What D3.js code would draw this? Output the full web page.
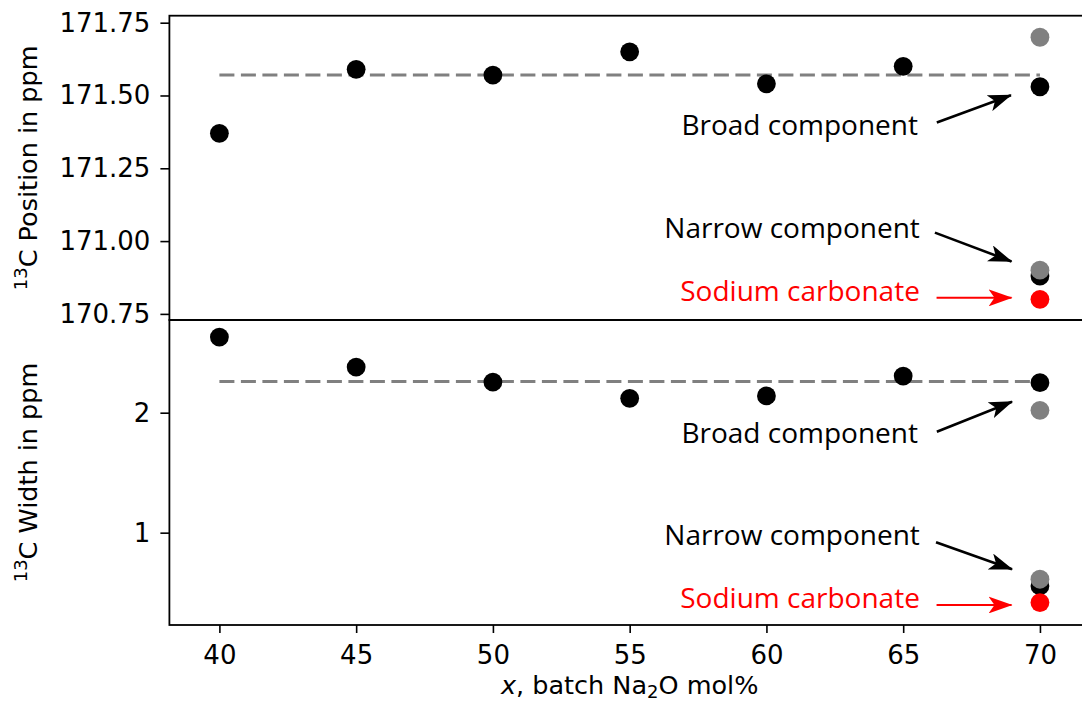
<!DOCTYPE html>
<html>
<head>
<meta charset="utf-8">
<script src="https://cdn.jsdelivr.net/npm/d3@7"></script>
<style>
  html, body { margin: 0; padding: 0; background: #fff; }
  svg { display: block; }
</style>
</head>
<body>
<svg id="chart" width="1082" height="704"></svg>
<script>
// Batch composition (Na2O mol%)
const compositions = [40, 45, 50, 55, 60, 65, 70];

// 13C peak position (ppm) of the main carbonate signal
const positionValues = [171.37, 171.59, 171.57, 171.65, 171.54, 171.60, 171.53];
// 13C peak width (ppm)
const widthValues = [2.63, 2.38, 2.255, 2.12, 2.14, 2.305, 2.25];

// Mean lines
const positionMean = 171.57;
const widthMean = 2.26;

// Two-component fit at x = 70
const fitX = 70;
const positionBroadAlt = 171.70;
const positionNarrow = 170.88;
const positionNarrowAlt = 170.90;
const positionNa2CO3 = 170.80;
const widthBroadAlt = 2.02;
const widthNarrow = 0.556;
const widthNarrowAlt = 0.612;
const widthNa2CO3 = 0.417;

// Tick labels
const xTicks = [40, 45, 50, 55, 60, 65, 70];
const positionTicks = [170.75, 171.00, 171.25, 171.50, 171.75];
const widthTicks = [1, 2];

// Annotations (data coordinates): label end, label baseline, arrow tail, arrow tip
const positionNotes = [
  { text: "Broad component", color: "#000", tx: 65.54, ty: 171.365, ax0: 66.23, ay0: 171.407, ax1: 68.94, ay1: 171.501 },
  { text: "Narrow component", color: "#000", tx: 65.61, ty: 171.011, ax0: 66.16, ay0: 171.029, ax1: 68.96, ay1: 170.930 },
  { text: "Sodium carbonate", color: "#ff0000", tx: 65.61, ty: 170.793, ax0: 66.22, ay0: 170.805, ax1: 68.96, ay1: 170.805 }
];
const widthNotes = [
  { text: "Broad component", color: "#000", tx: 65.54, ty: 1.7475, ax0: 66.23, ay0: 1.8417, ax1: 68.98, ay1: 2.0917 },
  { text: "Narrow component", color: "#000", tx: 65.61, ty: 0.8975, ax0: 66.20, ay0: 0.92, ax1: 68.98, ay1: 0.695 },
  { text: "Sodium carbonate", color: "#ff0000", tx: 65.61, ty: 0.3725, ax0: 66.22, ay0: 0.3975, ax1: 68.96, ay1: 0.3975 }
];

const svg = d3.select("#chart");

const plotLeft = 169.4, plotRight = 1090;
const topPanel = { top: 15.7, bottom: 320 };
const botPanel = { top: 320, bottom: 625 };

const x = d3.scaleLinear().domain([38.172, 71.83]).range([plotLeft, plotRight]);
const yPos = d3.scaleLinear().domain([170.7290, 171.7740]).range([topPanel.bottom, topPanel.top]);
const yWid = d3.scaleLinear().domain([0.2305, 2.7725]).range([botPanel.bottom, botPanel.top]);

const tickFont = 26;
const labelFontFamily = "'DejaVu Sans', sans-serif";
const annFont = "'Open Sans', sans-serif";
const annSize = 28;
const markerR = 9.4;
const grey = "#808080";

// arrow head definitions
const defs = svg.append("defs");
function arrowHead(id, color) {
  defs.append("marker")
    .attr("id", id)
    .attr("viewBox", "0 0 24 17")
    .attr("refX", 23).attr("refY", 8.5)
    .attr("markerWidth", 24).attr("markerHeight", 17)
    .attr("markerUnits", "userSpaceOnUse")
    .attr("orient", "auto")
    .append("path")
    .attr("d", "M0,0 L24,8.5 L0,17 L6,8.5 Z")
    .attr("fill", color);
}
arrowHead("headBlack", "#000");
arrowHead("headRed", "#ff0000");

function styleAxis(ax) {
  ax.attr("font-family", labelFontFamily).attr("font-size", tickFont);
  ax.select(".domain").remove();
  ax.selectAll(".tick line").attr("stroke", "#000").attr("stroke-width", 1.6);
  ax.selectAll(".tick text")
    .attr("font-family", labelFontFamily)
    .attr("font-size", tickFont).attr("fill", "#000");
}

function drawPanel(g, y, panel, values, mean, ticks, tickFmt, extras, notes, showX) {
  // mean dashed line
  g.append("line")
    .attr("x1", x(40)).attr("x2", x(70))
    .attr("y1", y(mean)).attr("y2", y(mean))
    .attr("stroke", grey).attr("stroke-width", 3)
    .attr("stroke-dasharray", "15,6.5");

  // main series
  g.selectAll("circle.main")
    .data(compositions.map((c, i) => ({ c, v: values[i] })))
    .join("circle")
    .attr("class", "main")
    .attr("cx", d => x(d.c)).attr("cy", d => y(d.v))
    .attr("r", markerR).attr("fill", "#000");

  // extra points at x = 70
  extras.forEach(p => {
    g.append("circle")
      .attr("cx", x(fitX)).attr("cy", y(p.v))
      .attr("r", markerR).attr("fill", p.color);
  });

  // annotations
  notes.forEach(n => {
    g.append("text")
      .attr("x", x(n.tx)).attr("y", y(n.ty))
      .attr("text-anchor", "end")
      .attr("font-family", annFont).attr("font-size", annSize)
      .attr("fill", n.color)
      .text(n.text);
    g.append("line")
      .attr("x1", x(n.ax0)).attr("y1", y(n.ay0))
      .attr("x2", x(n.ax1)).attr("y2", y(n.ay1))
      .attr("stroke", n.color)
      .attr("stroke-width", n.color === "#000" ? 2.6 : 2)
      .attr("marker-end", n.color === "#000" ? "url(#headBlack)" : "url(#headRed)");
  });

  // y axis
  const ax = g.append("g")
    .attr("transform", `translate(${plotLeft},0)`)
    .call(d3.axisLeft(y).tickValues(ticks).tickFormat(tickFmt).tickSize(9).tickPadding(10));
  styleAxis(ax);

  if (showX) {
    const axx = g.append("g")
      .attr("transform", `translate(0,${panel.bottom})`)
      .call(d3.axisBottom(x).tickValues(xTicks).tickFormat(d3.format("d")).tickSize(8).tickPadding(13));
    styleAxis(axx);
  }

  // frame
  g.append("rect")
    .attr("x", plotLeft).attr("y", panel.top)
    .attr("width", plotRight - plotLeft).attr("height", panel.bottom - panel.top)
    .attr("fill", "none").attr("stroke", "#000").attr("stroke-width", 1.8);
}

const gTop = svg.append("g");
drawPanel(gTop, yPos, topPanel, positionValues, positionMean, positionTicks, d3.format(".2f"),
  [
    { v: positionBroadAlt, color: grey },
    { v: positionNarrow, color: "#000" },
    { v: positionNarrowAlt, color: grey },
    { v: positionNa2CO3, color: "#ff0000" }
  ], positionNotes, false);

const gBot = svg.append("g");
drawPanel(gBot, yWid, botPanel, widthValues, widthMean, widthTicks, d3.format("d"),
  [
    { v: widthBroadAlt, color: grey },
    { v: widthNarrow, color: "#000" },
    { v: widthNarrowAlt, color: grey },
    { v: widthNa2CO3, color: "#ff0000" }
  ], widthNotes, true);

// axis titles
function yTitle(cy, rest) {
  const t = svg.append("text")
    .attr("transform", `translate(37,${cy}) rotate(-90)`)
    .attr("text-anchor", "middle")
    .attr("font-family", labelFontFamily).attr("font-size", 25.5).attr("fill", "#000");
  t.append("tspan").attr("font-size", 18).attr("dy", -10).text("13");
  t.append("tspan").attr("dy", 10).text(rest);
}
yTitle((topPanel.top + topPanel.bottom) / 2, "C Position in ppm");
yTitle((botPanel.top + botPanel.bottom) / 2, "C Width in ppm");

const xl = svg.append("text")
  .attr("x", (plotLeft + plotRight) / 2).attr("y", 694)
  .attr("text-anchor", "middle")
  .attr("font-family", labelFontFamily).attr("font-size", 25.5).attr("fill", "#000");
xl.append("tspan").attr("font-style", "italic").text("x");
xl.append("tspan").text(", batch Na");
xl.append("tspan").attr("font-size", 18).attr("dy", 4).text("2");
xl.append("tspan").attr("dy", -4).text("O mol%");
</script>
</body>
</html>
